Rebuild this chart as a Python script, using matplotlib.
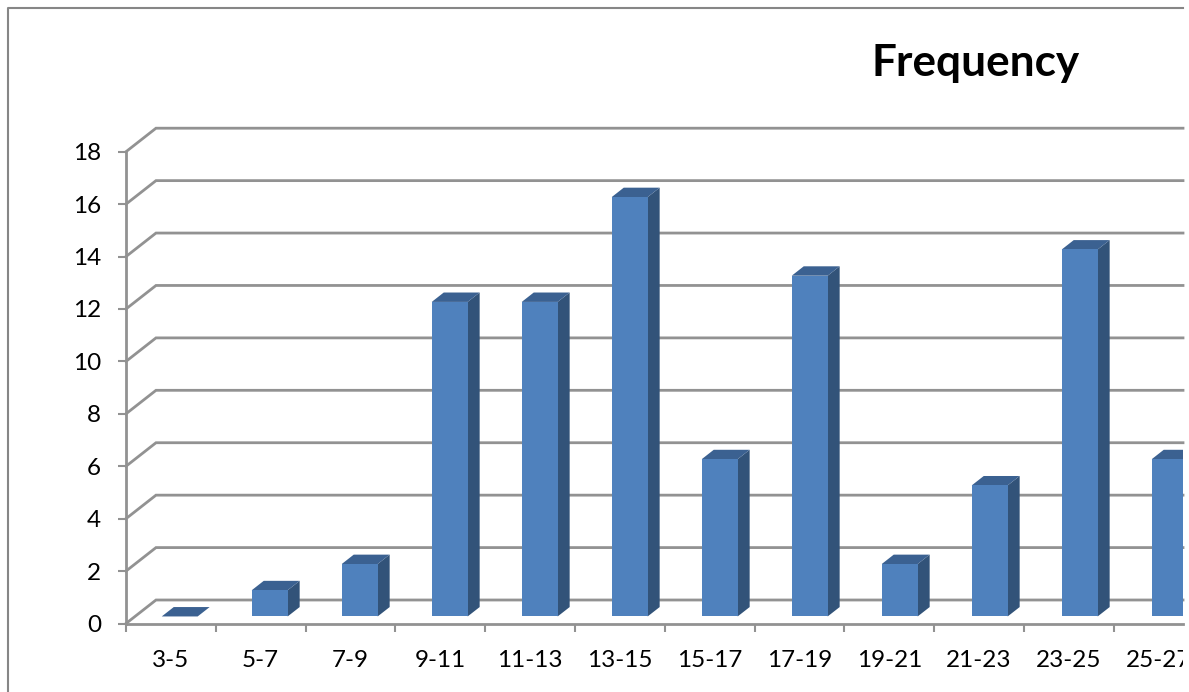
import matplotlib
matplotlib.use('Agg')
import matplotlib.pyplot as plt
from matplotlib.lines import Line2D
from matplotlib.patches import Polygon
from matplotlib.transforms import Bbox, TransformedBbox

categories = ['3-5', '5-7', '7-9', '9-11', '11-13', '13-15', '15-17', '17-19',
              '19-21', '21-23', '23-25', '25-27']
frequency = [0, 1, 2, 12, 12, 16, 6, 13, 2, 5, 14, 6]
y_ticks = [0, 2, 4, 6, 8, 10, 12, 14, 16, 18]

W, H = 1189, 692
GRAY = '#929292'
FRONT = '#4f81bd'
TOP = '#3b6191'
SIDE = '#325379'

plt.rcParams['font.family'] = ['Lato', 'DejaVu Sans']

fig = plt.figure(figsize=(W / 100, H / 100), dpi=100)
# axes = front plane of the fake 3D box, in pixels of the picture
left, right, y0_px, y18_px = 126, 1183, 623.5, 151.7
ax = fig.add_axes([left / W, 1 - y0_px / H, (right - left) / W, (y0_px - y18_px) / H])

cat_w = 89.8
ax.set_xlim(0, (right - left) / cat_w)
ax.set_ylim(0, 18)

# depth of the box, in data units
DX = 30 / cat_w
DY = 23.5 / ((y0_px - y18_px) / 18)


def skew(x, y, d):
    return x + d * DX, y + d * DY


# back wall lines and the diagonals on the side wall
xmax = ax.get_xlim()[1]
for v in y_ticks:
    bx, by = skew(0, v, 1)
    ax.plot([0, bx, xmax], [v, by, by], color=GRAY, lw=2, clip_on=False, zorder=1,
            solid_joinstyle='miter')

# bars, their spacing in the original is a bit wider than the ticks
bar_w = 0.4
bar_step = 90 / cat_w
d1, d2 = 0.3, 0.7
for i, v in enumerate(frequency):
    x1 = 1.3 + (i - 1) * bar_step
    x2 = x1 + bar_w
    front = [skew(x1, 0, d1), skew(x2, 0, d1), skew(x2, v, d1), skew(x1, v, d1)]
    top = [skew(x1, v, d1), skew(x2, v, d1), skew(x2, v, d2), skew(x1, v, d2)]
    side = [skew(x2, 0, d1), skew(x2, 0, d2), skew(x2, v, d2), skew(x2, v, d1)]
    ax.add_patch(Polygon(side, facecolor=SIDE, edgecolor='none', zorder=3))
    ax.add_patch(Polygon(top, facecolor=TOP, edgecolor='none', zorder=3))
    ax.add_patch(Polygon(front, facecolor=FRONT, edgecolor='none', zorder=4))

ax.patch.set_visible(False)
for s in ['top', 'right']:
    ax.spines[s].set_visible(False)
for s in ['left', 'bottom']:
    ax.spines[s].set_color(GRAY)
    ax.spines[s].set_linewidth(2)
    ax.spines[s].set_zorder(2)

ax.set_yticks(y_ticks)
ax.tick_params(axis='y', length=6, width=1.5, color=GRAY, labelsize=17.5, pad=12)
ax.set_xticks(range(12))
ax.set_xticklabels([])
ax.tick_params(axis='x', which='major', length=6, width=1.5, color=GRAY)
ax.set_xticks([i + 0.5 for i in range(12)], minor=True)
ax.set_xticklabels(categories, minor=True, fontsize=17.5)
ax.tick_params(axis='x', which='minor', length=0, pad=19)

# the picture is cut off on the right
cut = TransformedBbox(Bbox([[0, 0], [right / W, 1]]), fig.transFigure)
for lab in ax.get_xticklabels(minor=True):
    lab.set_clip_on(True)
    lab.set_clip_box(cut)

fig.text(976 / W, 1 - 63 / H, 'Frequency', fontsize=31.8, fontweight='bold', ha='center', va='center')

# chart frame, only left and top are in the crop
fig.add_artist(Line2D([8 / W, 8 / W, right / W], [0, 1 - 8 / H, 1 - 8 / H],
                      color='#868686', lw=1.5, transform=fig.transFigure))

fig.savefig('out.png', dpi=100)
